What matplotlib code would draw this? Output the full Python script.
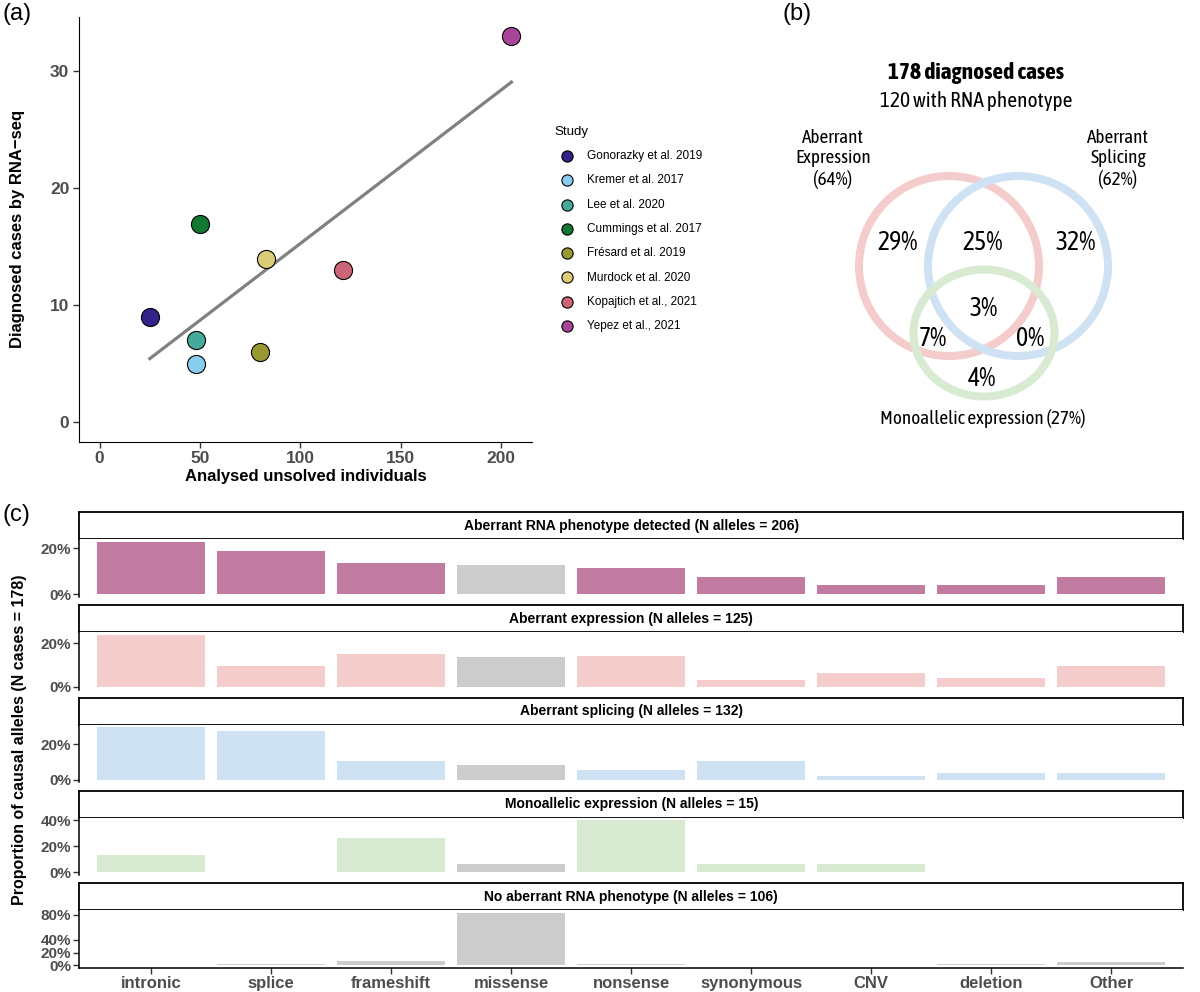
import numpy as np
import matplotlib
matplotlib.use("Agg")
import matplotlib.pyplot as plt
from matplotlib.patches import Ellipse
from matplotlib import font_manager

plt.rcParams['font.family'] = ['Liberation Sans', 'DejaVu Sans']

# panel (a) data
studies = ['Gonorazky et al. 2019', 'Kremer et al. 2017', 'Lee et al. 2020',
           'Cummings et al. 2017', 'Frésard et al. 2019', 'Murdock et al. 2020',
           'Kopajtich et al., 2021', 'Yepez et al., 2021']
analysed = [25, 48, 48, 50, 80, 83, 121, 205]
diagnosed = [9, 5, 7, 17, 6, 14, 13, 33]
study_colors = ['#332288', '#88CCEE', '#44AA99', '#117733',
                '#999933', '#DDCC77', '#CC6677', '#AA4499']

# panel (b) data
venn_sets = ['Aberrant\nExpression\n(64%)', 'Aberrant\nSplicing\n(62%)',
             'Monoallelic expression (27%)']
venn_regions = ['E only', 'E+S', 'S only', 'E+S+M', 'E+M', 'S+M', 'M only']
venn_pct = [29, 25, 32, 3, 7, 0, 4]

# panel (c) data
categories = ['intronic', 'splice', 'frameshift', 'missense', 'nonsense',
              'synonymous', 'CNV', 'deletion', 'Other']
facet_titles = ['Aberrant RNA phenotype detected (N alleles = 206)',
                'Aberrant expression (N alleles = 125)',
                'Aberrant splicing (N alleles = 132)',
                'Monoallelic expression (N alleles = 15)',
                'No aberrant RNA phenotype (N alleles = 106)']
rna_detected = [0.228, 0.19, 0.135, 0.129, 0.115, 0.075, 0.04, 0.04, 0.075]
aberrant_expression = [0.24, 0.096, 0.152, 0.136, 0.144, 0.032, 0.064, 0.04, 0.096]
aberrant_splicing = [0.295, 0.273, 0.106, 0.083, 0.053, 0.106, 0.023, 0.038, 0.038]
monoallelic = [0.133, 0, 0.267, 0.067, 0.4, 0.067, 0.067, 0, 0]
no_rna = [0, 0.019, 0.066, 0.83, 0.019, 0, 0, 0.019, 0.047]
facet_values = [rna_detected, aberrant_expression, aberrant_splicing, monoallelic, no_rna]
facet_colors = ['#C27BA0', '#F4CCCC', '#CFE2F3', '#D9EAD3', '#CCCCCC']
facet_ticks = [[0, 0.2], [0, 0.2], [0, 0.2], [0, 0.2, 0.4], [0, 0.2, 0.4, 0.8]]
grey = '#CCCCCC'

W, H = 1200, 992
fig = plt.figure(figsize=(12, 9.92), dpi=100)


def box(x0, y0, x1, y1):
    return [x0 / W, 1 - y1 / H, (x1 - x0) / W, (y1 - y0) / H]


def bold_ticks(ax, size):
    for lbl in ax.get_xticklabels() + ax.get_yticklabels():
        lbl.set_fontweight('bold')
        lbl.set_fontsize(size)
        lbl.set_color('#4D4D4D')


# ---- (a) scatter ----
ax_a = fig.add_axes(box(79, 17, 532, 441.7))
coef = np.polyfit(analysed, diagnosed, 1)
xs = np.array([min(analysed), max(analysed)])
ax_a.plot(xs, np.polyval(coef, xs), color='#808080', lw=2.3, zorder=2)
for name, xv, yv, col in zip(studies, analysed, diagnosed, study_colors):
    ax_a.scatter(xv, yv, s=170, color=col, edgecolors='black', linewidths=0.8,
                 label=name, zorder=3)
ax_a.set_xlim(-10.25, 215.25)
ax_a.set_ylim(-1.65, 34.65)
ax_a.set_xticks([0, 50, 100, 150, 200])
ax_a.set_yticks([0, 10, 20, 30])
ax_a.spines['top'].set_visible(False)
ax_a.spines['right'].set_visible(False)
ax_a.tick_params(length=4, width=1, color='#333333', pad=3)
bold_ticks(ax_a, 12.5)
ax_a.set_xlabel('Analysed unsolved individuals', fontsize=12, fontweight='bold', labelpad=2)
ax_a.set_ylabel('Diagnosed cases by RNA\u2212seq', fontsize=12, fontweight='bold', labelpad=18)

leg = fig.legend(loc='upper left', bbox_to_anchor=(549 / W, 1 - 120 / H),
                 title='Study', frameon=False, fontsize=8.5, title_fontsize=9.5,
                 markerscale=0.62, labelspacing=1.04, handletextpad=0.75,
                 alignment='left', borderpad=0)

# ---- (b) venn ----
# condensed face for the venn text, prefer one that also has a bold weight
narrow = {}
for f in font_manager.fontManager.ttflist:
    if 'Narrow' in f.name or 'Condensed' in f.name:
        w = font_manager.weight_dict.get(f.weight, f.weight) if isinstance(f.weight, str) else f.weight
        narrow.setdefault(f.name, set()).add(w)
with_bold = sorted(n for n, ws in narrow.items() if max(ws) >= 600)
if with_bold:
    vfont = dict(family=with_bold[0])
    k = 1.2
elif narrow:
    vfont = dict(family=sorted(narrow)[0])
    k = 1.2
else:
    vfont = dict(family='Liberation Sans')
    k = 1.0

ax_b = fig.add_axes(box(770, 0, 1200, 440))
ax_b.set_xlim(770, 1200)
ax_b.set_ylim(440, 0)
ax_b.axis('off')
ring_specs = [((949, 266), 180, 180, '#F4CCCC'),
              ((1018, 266), 180, 180, '#CFE2F3'),
              ((984, 333), 141, 127, '#D9EAD3')]
for c, w, h, col in ring_specs:
    ax_b.add_patch(Ellipse(c, w, h, fill=False, ec=col, lw=5.8))
ax_b.text(976, 73, '178 diagnosed cases', ha='center', va='center',
          fontsize=14 * k, fontweight='bold', **vfont)
ax_b.text(976, 101, '120 with RNA phenotype', ha='center', va='center',
          fontsize=12.8 * k, **vfont)
ax_b.text(833, 159, venn_sets[0], ha='center', va='center', fontsize=11.5 * k,
          linespacing=1.2, **vfont)
ax_b.text(1118, 159, venn_sets[1], ha='center', va='center', fontsize=11.5 * k,
          linespacing=1.2, **vfont)
ax_b.text(983, 418, venn_sets[2], ha='center', va='center', fontsize=11.5 * k, **vfont)
region_xy = [(898, 243), (983, 243), (1076, 243), (984, 309), (933, 338),
             (1030, 338), (982, 378)]
for (px, py), v in zip(region_xy, venn_pct):
    ax_b.text(px, py, f'{v}%', ha='center', va='center', fontsize=15.5 * k, **vfont)

# ---- (c) faceted bars ----
pos = np.arange(len(categories))
for i, (title, vals, col, ticks) in enumerate(zip(facet_titles, facet_values,
                                                  facet_colors, facet_ticks)):
    top = 512.3 + 92.75 * i
    ax_s = fig.add_axes(box(79.3, top, 1183.3, top + 27))
    ax_s.set_xticks([])
    ax_s.set_yticks([])
    for sp in ax_s.spines.values():
        sp.set_linewidth(1.3)
    ax_s.text(0.5, 0.5, title, ha='center', va='center', fontsize=10,
              fontweight='bold', transform=ax_s.transAxes)

    ax = fig.add_axes(box(79.3, top + 27, 1183.3, top + 27 + 57.5))
    bar_cols = [grey if c == 'missense' else col for c in categories]
    ax.bar(pos, vals, width=0.9, color=bar_cols)
    ymax = max(vals)
    ax.set_xlim(-0.6, len(categories) - 0.4)
    ax.set_ylim(-0.05 * ymax, 1.05 * ymax)
    ax.set_yticks(ticks)
    ax.set_yticklabels([f'{t:.0%}' for t in ticks])
    ax.spines['top'].set_visible(False)
    ax.spines['right'].set_visible(False)
    ax.spines['left'].set_linewidth(1.1)
    if i < len(facet_titles) - 1:
        ax.spines['bottom'].set_visible(False)
        ax.set_xticks([])
    else:
        ax.spines['bottom'].set_linewidth(1.1)
        ax.set_xticks(pos)
        ax.set_xticklabels(categories)
    ax.tick_params(length=4, width=1, color='#333333', pad=2)
    bold_ticks(ax, 11)
    for lbl in ax.get_xticklabels():
        lbl.set_fontsize(12)

fig.text(20 / W, 1 - 740 / H, 'Proportion of causal alleles (N cases = 178)',
         rotation=90, ha='center', va='center', fontsize=11.5, fontweight='bold')

fig.text(2 / W, 1 - 14 / H, '(a)', fontsize=17, va='center', ha='left')
fig.text(783 / W, 1 - 14 / H, '(b)', fontsize=17, va='center', ha='left')
fig.text(2 / W, 1 - 515 / H, '(c)', fontsize=17, va='center', ha='left')

fig.savefig('out.png', dpi=100)
